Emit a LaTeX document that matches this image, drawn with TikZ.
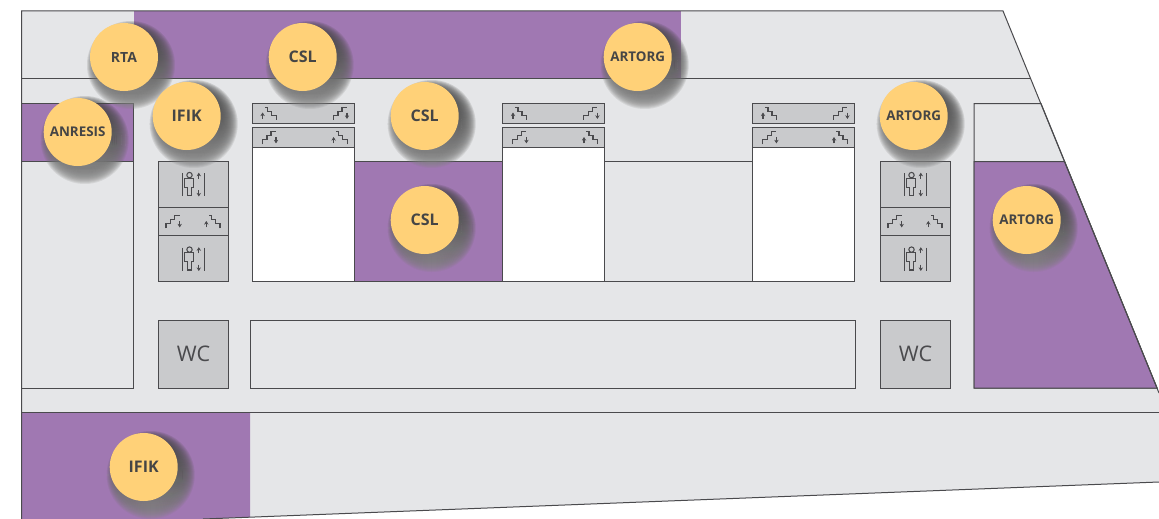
\documentclass[tikz,border=0pt]{standalone}
\usepackage{fontspec}
\setmainfont{Open Sans}
\usetikzlibrary{arrows.meta}
\definecolor{roomgray}{HTML}{E5E6E8}
\definecolor{boxgray}{HTML}{C9CACC}
\definecolor{lilac}{HTML}{A078B2}
\definecolor{lineink}{HTML}{4A4A4D}
\definecolor{badge}{HTML}{FFD178}
\definecolor{badgeink}{HTML}{454545}
\definecolor{shade}{HTML}{221C28}
\tikzset{
  x=1pt,y=-1pt,
  wall/.style={draw=lineink,line width=1pt,line join=miter},
  room/.style={wall,fill=roomgray},
  lilacroom/.style={wall,fill=lilac},
  graybox/.style={wall,fill=boxgray},
  whitebox/.style={wall,fill=white},
  icon/.style={draw=lineink,line width=1.05pt},
  tipped/.style={icon,-{Stealth[length=3.6pt,width=4.4pt]}},
  badgenode/.style={circle,fill=badge,minimum size=68pt,inner sep=0pt,text=badgeink,
    font=\fontsize{13.4}{15}\selectfont\bfseries},
  badgelarge/.style={badgenode,font=\fontsize{16}{18}\selectfont\bfseries},
  badgemid/.style={badgenode,font=\fontsize{14}{16}\selectfont\bfseries},
  wclabel/.style={text=lineink,inner sep=0pt,font=\fontsize{21.5}{24}\selectfont},
  stairdown/.pic={
    \draw[icon] (-7,6.3)--(-7,1.7)--(-2.3,1.7)--(-2.3,-2.3)--(1.7,-2.3)--(1.7,-6.3)--(6.7,-6.3);
    \draw[tipped] (6.7,-1)--(6.7,5.4);
  },
  stairup/.pic={
    \draw[icon] (7,6.3)--(7,1.7)--(2.3,1.7)--(2.3,-2.3)--(-1.7,-2.3)--(-1.7,-6.3)--(-4.5,-6.3);
    \draw[tipped] (-6.7,5.4)--(-6.7,-1);
  },
  liftpic/.pic={
    \draw[icon] (-11.4,-11.5)--(-11.4,11.5) (11.4,-11.5)--(11.4,11.5);
    \draw[icon] (-4,-9.4) circle (2.7);
    \draw[icon] (-8.6,-6.4)--(-0.4,-6.4)--(-0.4,2.8)--(-2.3,2.8)--(-2.3,11)--(-6.3,11)--(-6.3,2.8)--(-8.6,2.8)--cycle;
    \draw[tipped] (5.3,-5.6)--(5.3,-11.8);
    \draw[tipped] (5.3,5.6)--(5.3,12);
  },
}
\newcommand{\liftblock}[2]{%
  \draw[graybox] (#1,161.5) rectangle (#1+70,281);
  \draw[wall] (#1,207.5)--(#1+70,207.5) (#1,235)--(#1+70,235);
  \pic at (#1+35.5,184.5) {liftpic};
  \pic at (#1+35.5,259) {liftpic};
  \pic at (#1+15,222) {stairdown};
  \pic at (#1+55,222) {stairup};
  \draw[graybox] (#1,320.5) rectangle (#1+70,388);
  \node[wclabel] (#2) at (#1+35.5,354) {WC};
}
\newcommand{\stairblock}[1]{%
  \draw[whitebox] (#1,147.5) rectangle (#1+102,281);
  \draw[graybox] (#1,103.5) rectangle (#1+102,123);
  \draw[graybox] (#1,127.5) rectangle (#1+102,147.5);
  \pic at (#1+17,113.5) {stairup};
  \pic at (#1+88,113.5) {stairdown};
  \pic at (#1+17,138) {stairdown};
  \pic at (#1+88,138) {stairup};
}
\begin{document}
\begin{tikzpicture}
\useasboundingbox (0,0) rectangle (1159,519);
\fill[white] (0,0) rectangle (1159,519);
\begin{scope}
\clip (0,0) rectangle (1159,519);
% building outline
\fill[roomgray] (21.5,11)--(1003,11)--(1159,393)--(1159,482)--(203,519)--(21.5,519)--cycle;
% top band
\fill[lilac] (133.5,11) rectangle (681,78.5);
\draw[wall] (21.5,78.5)--(1030,78.5);
% left room
\draw[room] (21.5,103.5) rectangle (133.5,388);
\draw[lilacroom] (21.5,103.5) rectangle (133.5,161.5);
% right room
\draw[room] (974,388)--(974,103.5)--(1041,103.5)--(1157,388)--cycle;
\draw[lilacroom] (974,388)--(974,161.5)--(1064.5,161.5)--(1157,388)--cycle;
% middle rooms
\draw[lilacroom] (354.5,161.5) rectangle (502.7,281);
\draw[wall] (604.7,161.5) rectangle (752.7,281);
\stairblock{252.3}
\stairblock{502.7}
\stairblock{752.7}
\liftblock{158}{wcleft}
\liftblock{880}{wcright}
\draw[wall,fill=roomgray] (250,320.5) rectangle (855,388);
% bottom
\fill[lilac] (21.5,412.5)--(250,412.5)--(250,517)--(203,519)--(21.5,519)--cycle;
\draw[wall] (21.5,412.5)--(1159,412.5);
\draw[wall] (21.5,519)--(21.5,11)--(1003,11)--(1159,393);
\draw[wall] (203,519)--(1159,482);
% shadows
\foreach \cx/\cy in {124/57,302.7/57,637.7/57,77.7/132,186.7/116,424.7/116,913.7/116,424.7/220,1026.7/220,143.7/467}{
  \foreach \r in {44,43,...,28}{
    \fill[shade,opacity=0.085] (\cx+7,\cy+8) circle (\r);
  }
}
\end{scope}
\node[badgemid] (rta) at (124,57) {RTA};
\node[badgelarge] (cslt) at (302.7,57) {CSL};
\node[badgenode] (artorgt) at (637.7,57) {ARTORG};
\node[badgenode] (anresis) at (77.7,132) {ANRESIS};
\node[badgelarge] (ifikt) at (186.7,116) {IFIK};
\node[badgelarge] (cslm) at (424.7,116) {CSL};
\node[badgenode] (artorgm) at (913.7,116) {ARTORG};
\node[badgelarge] (csll) at (424.7,220) {CSL};
\node[badgenode] (artorgr) at (1026.7,220) {ARTORG};
\node[badgelarge] (ifikb) at (143.7,467) {IFIK};
\end{tikzpicture}
\end{document}
